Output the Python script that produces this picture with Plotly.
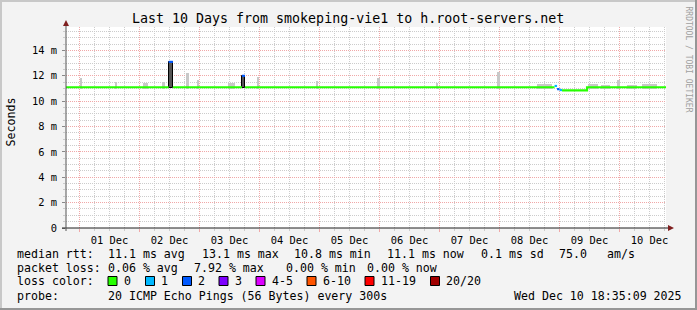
import plotly.graph_objects as go
import pandas as pd

# ---------------- data ----------------
start_time = "2025-11-30 18:35:09"
end_time = "2025-12-10 18:35:09"

# median rtt as steps: start of step, value (ms), loss class index
step_times = ["2025-11-30 18:35", "2025-12-02 11:40", "2025-12-02 13:20",
              "2025-12-03 17:00", "2025-12-03 18:10", "2025-12-08 22:00",
              "2025-12-08 23:00", "2025-12-09 00:00", "2025-12-09 01:00",
              "2025-12-09 11:00"]
step_values = [11.1, 13.1, 11.1, 12.0, 11.1, 11.2, 10.95, 10.88, 10.85, 11.1]
step_loss = [0, 2, 0, 2, 0, 1, 2, 1, 0, 0]

# light smoke (ping spread above the median)
smoke_start = ["2025-12-01 00:00", "2025-12-01 14:10", "2025-12-02 01:30", "2025-12-02 09:00",
               "2025-12-02 18:30", "2025-12-02 23:00", "2025-12-03 11:30", "2025-12-03 23:00",
               "2025-12-04 22:30", "2025-12-05 23:10", "2025-12-06 22:30", "2025-12-07 23:10",
               "2025-12-08 15:00", "2025-12-09 11:30", "2025-12-09 16:30", "2025-12-09 23:10",
               "2025-12-10 03:00", "2025-12-10 09:00"]
smoke_end = ["2025-12-01 00:50", "2025-12-01 15:00", "2025-12-02 03:30", "2025-12-02 10:00",
             "2025-12-02 19:50", "2025-12-02 23:50", "2025-12-03 14:00", "2025-12-03 23:50",
             "2025-12-04 23:30", "2025-12-06 00:00", "2025-12-06 23:30", "2025-12-08 00:00",
             "2025-12-08 21:00", "2025-12-09 15:30", "2025-12-09 20:00", "2025-12-10 00:00",
             "2025-12-10 07:00", "2025-12-10 15:00"]
smoke_top = [11.8, 11.5, 11.4, 11.5, 12.2, 11.7, 11.45, 11.9,
             11.6, 11.8, 11.4, 12.3, 11.32, 11.32, 11.3, 11.65, 11.3, 11.32]
smoke_base = 11.0

# dark smoke (spikes with loss)
dark_start = ["2025-12-02 11:40", "2025-12-03 17:00"]
dark_end = ["2025-12-02 13:20", "2025-12-03 18:10"]
dark_low = [11.05, 11.05]
dark_high = [13.1, 12.0]

y_tick_values = [0, 2, 4, 6, 8, 10, 12, 14]
y_tick_labels = ["0", "2 m", "4 m", "6 m", "8 m", "10 m", "12 m", "14 m"]

loss_labels = ["0", "1", "2", "3", "4-5", "6-10", "11-19", "20/20"]
loss_colors = ["#26ff00", "#00b8ff", "#0059ff", "#7e00ff", "#dd00ff", "#ff5500", "#ff0000", "#a10000"]

title_text = "Last 10 Days from smokeping-vie1 to h.root-servers.net"
row1 = ["median rtt:", "11.1 ms avg", "13.1 ms max", "10.8 ms min", "11.1 ms now", "0.1 ms sd", "75.0", "am/s"]
row2 = ["packet loss:", "0.06 % avg", "7.92 % max", "0.00 % min", "0.00 % now"]
row3_label = "loss color:"
row4 = ["probe:", "20 ICMP Echo Pings (56 Bytes) every 300s", "Wed Dec 10 18:35:09 2025"]
watermark = "RRDTOOL / TOBI OETIKER"

# ---------------- layout helpers ----------------
W, H = 697, 310
PL, PR, PT, PB = 66, 666, 27, 228
def PX(x):
    return (x - PL) / (PR - PL)
def PY(y):
    return (PB - y) / (PB - PT)

MONO = "DejaVu Sans Mono"
fig = go.Figure()

# light smoke
s0 = pd.to_datetime(smoke_start)
s1 = pd.to_datetime(smoke_end)
fig.add_trace(go.Bar(
    x=s0 + (s1 - s0) / 2, width=[(b - a).total_seconds() * 1000 for a, b in zip(s0, s1)],
    y=[t - smoke_base for t in smoke_top], base=smoke_base,
    marker=dict(color="#c8c8c8", line=dict(width=0)), hoverinfo="skip", showlegend=False))

# dark smoke
d0 = pd.to_datetime(dark_start)
d1 = pd.to_datetime(dark_end)
fig.add_trace(go.Bar(
    x=d0 + (d1 - d0) / 2, width=[(b - a).total_seconds() * 1000 for a, b in zip(d0, d1)],
    y=[h - l for l, h in zip(dark_low, dark_high)], base=dark_low,
    marker=dict(color="#555555", line=dict(width=1, color="#000000")),
    hoverinfo="skip", showlegend=False))

# median line coloured by loss (runs of same class)
times_all = step_times + [end_time]
n = len(step_values)
i = 0
while i < n:
    j = i
    while j + 1 < n and step_loss[j + 1] == step_loss[i]:
        j += 1
    xs = times_all[i:j + 2]
    ys = step_values[i:j + 1] + [step_values[j]]
    fig.add_trace(go.Scatter(x=xs, y=ys, mode="lines", line_shape="hv",
                             line=dict(color=loss_colors[step_loss[i]], width=2.2),
                             hoverinfo="skip", showlegend=False))
    i = j + 1

fig.update_layout(barmode="overlay", bargap=0)

GRID = "#cccccc"
MGRID = "#f0a8a8"
fig.update_xaxes(
    type="date", range=[start_time, end_time],
    tick0="2025-12-01", dtick=86400000, tickformat="%d %b", ticklabelmode="period",
    showgrid=True, gridcolor=MGRID, griddash="1px,1px", gridwidth=1,
    ticks="outside", ticklen=3, tickcolor=MGRID,
    minor=dict(dtick=21600000, showgrid=True, gridcolor=GRID, griddash="1px,1px",
               ticks="outside", ticklen=2, tickcolor=GRID),
    showline=False, zeroline=False,
    tickfont=dict(family=MONO, size=10.4, color="#000000"),
)
fig.update_yaxes(
    range=[0, 15.85], tickmode="array", tickvals=y_tick_values, ticktext=y_tick_labels,
    showgrid=True, gridcolor=MGRID, griddash="1px,1px", gridwidth=1,
    ticks="outside", ticklen=3, tickcolor="#888888",
    minor=dict(dtick=0.5, showgrid=True, gridcolor=GRID, griddash="1px,1px",
               ticks="outside", ticklen=2, tickcolor=GRID),
    showline=False, zeroline=False, ticklabelstandoff=3,
    tickfont=dict(family=MONO, size=10.4, color="#000000"),
)

shapes = []
# outer 3D frame
shapes.append(dict(type="line", xref="paper", yref="paper", x0=PX(0), x1=PX(W), y0=PY(1), y1=PY(1),
                   line=dict(color="#c8c8c8", width=2)))
shapes.append(dict(type="line", xref="paper", yref="paper", x0=PX(1), x1=PX(1), y0=PY(0), y1=PY(H),
                   line=dict(color="#c8c8c8", width=2)))
shapes.append(dict(type="line", xref="paper", yref="paper", x0=PX(0), x1=PX(W), y0=PY(H - 1), y1=PY(H - 1),
                   line=dict(color="#969696", width=2)))
shapes.append(dict(type="line", xref="paper", yref="paper", x0=PX(W - 1), x1=PX(W - 1), y0=PY(0), y1=PY(H),
                   line=dict(color="#969696", width=2)))
# axes with arrows
shapes.append(dict(type="line", xref="paper", yref="paper", x0=PX(62), x1=PX(670), y0=0, y1=0,
                   line=dict(color="#1f1f1f", width=1)))
shapes.append(dict(type="line", xref="paper", yref="paper", x0=0, x1=0, y0=PY(231), y1=PY(24),
                   line=dict(color="#555555", width=1)))
shapes.append(dict(type="path", xref="paper", yref="paper",
                   path=f"M {PX(63)} {PY(26)} L {PX(69)} {PY(26)} L {PX(66)} {PY(20)} Z",
                   fillcolor="#7f1f1f", line=dict(width=0)))
shapes.append(dict(type="path", xref="paper", yref="paper",
                   path=f"M {PX(668)} {PY(225)} L {PX(668)} {PY(231)} L {PX(674)} {PY(228)} Z",
                   fillcolor="#7f1f1f", line=dict(width=0)))

annotations = []
def txt(x, y, s, size=11.6, anchor="left", color="#000000", angle=0):
    annotations.append(dict(xref="paper", yref="paper", x=PX(x), y=PY(y), text=s, showarrow=False,
                            xanchor=anchor, yanchor="middle", textangle=angle,
                            font=dict(family=MONO, size=size, color=color)))

txt(347.5, 18.5, title_text, size=13.3, anchor="center")
txt(10.5, 122, "Seconds", size=11.6, anchor="center", angle=-90)
txt(688.5, 59, watermark, size=8, anchor="center", color="#a0a0a0", angle=90)

row1_x = [16, 107, 201, 293, 386.5, 480, 558, 606.5]
for s, x in zip(row1, row1_x):
    txt(x - 1.5, 254, s)
row2_x = [16, 107, 193, 285.5, 366]
for s, x in zip(row2, row2_x):
    txt(x - 1.5, 268, s)
txt(16 - 1.5, 281, row3_label)
box_x = [108, 145.5, 182.5, 219, 256, 307, 365, 430.5]
lab_x = [123, 160, 197, 234, 271, 322, 380, 445.5]
for c, lab, bx, lx in zip(loss_colors, loss_labels, box_x, lab_x):
    shapes.append(dict(type="rect", xref="paper", yref="paper", x0=PX(bx), x1=PX(bx + 9),
                       y0=PY(285.5), y1=PY(276.5), fillcolor=c, line=dict(color="#000000", width=1)))
    txt(lx - 1.5, 281, lab)
row4_x = [16, 107, 513]
for s, x in zip(row4, row4_x):
    txt(x - 1.5, 296, s)

fig.update_layout(
    width=W, height=H, margin=dict(l=PL, r=W - PR, t=PT, b=H - PB, pad=0),
    paper_bgcolor="#f3f3f3", plot_bgcolor="#ffffff",
    shapes=shapes, annotations=annotations, showlegend=False,
)
fig.write_html("out.html")
